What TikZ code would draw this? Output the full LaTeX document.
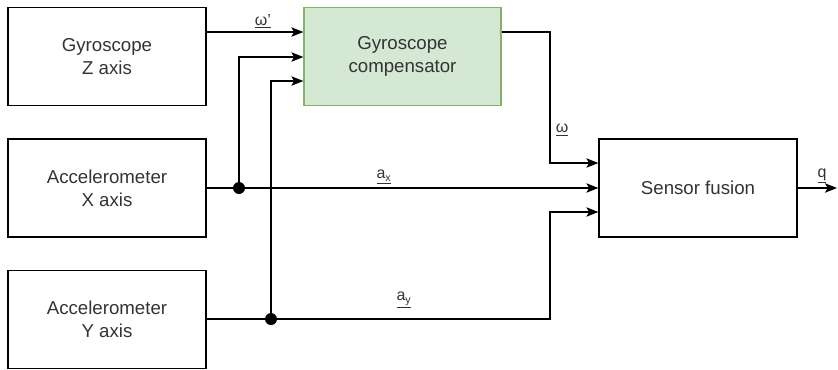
\documentclass[tikz,border=0pt]{standalone}
\usepackage{fontspec}
\setmainfont{Liberation Sans}
\usetikzlibrary{arrows.meta}
\definecolor{compfill}{HTML}{D5E8D4}
\definecolor{compdraw}{HTML}{82B366}
\definecolor{txt}{HTML}{333333}
\tikzset{
  blockbox/.style={draw=black, line width=0.9pt, minimum width=148.5pt, minimum height=73.5pt,
    align=center, text=txt, font=\fontsize{14}{17.5}\selectfont, inner sep=0pt},
  greenbox/.style={blockbox, fill=compfill, draw=compdraw},
  wire/.style={draw=black, line width=1.1pt},
  arr/.style={wire, -{Stealth[length=9pt, width=7pt, inset=2pt]}},
  dotnode/.style={circle, fill=black, inner sep=0pt, minimum size=9pt},
  lbl/.style={text=txt, font=\fontsize{12}{14}\selectfont, inner sep=0pt}
}
\begin{document}
\begin{tikzpicture}[x=0.75pt, y=-0.75pt]
\useasboundingbox (0,0) rectangle (838,369);
% boxes
\node[blockbox] (gz) at (107,56.5) {Gyroscope\\Z axis};
\node[greenbox, minimum width=147.75pt] (comp) at (402.5,56.5) {Gyroscope\\compensator};
\node[blockbox] (ax) at (107,188) {Accelerometer\\X axis};
\node[blockbox] (ay) at (107,319.5) {Accelerometer\\Y axis};
\node[blockbox] (sf) at (698,188) {Sensor fusion};
% helper coordinates
\coordinate (r1) at (0,32);
\coordinate (r2) at (0,57);
\coordinate (r3) at (0,81);
\coordinate (s1) at (0,163);
\coordinate (s3) at (0,212);
\coordinate (cw) at (550,163);
\coordinate (cy) at (550,212);
\coordinate (qe) at (837,188);
\node[dotnode] (dx) at (239,188) {};
\node[dotnode] (dy) at (271,319) {};
% connectors
\draw[arr] (gz.east |- r1) -- (comp.west |- r1);
\draw[arr] (dx.center) |- (comp.west |- r2);
\draw[arr] (dy.center) |- (comp.west |- r3);
\draw[arr] (ax.east) -- (sf.west);
\draw[arr] (ay.east |- dy) -| (cy) -- (sf.west |- s3);
\draw[arr] (comp.east |- r1) -| (cw) -- (sf.west |- s1);
\draw[arr] (sf.east) -- (qe);
% labels
\node[lbl] (lw1) at (263,21) {\underline{ω'}};
\node[lbl] (lw) at (562,130) {\underline{ω}};
\node[lbl] (lax) at (384,177) {\underline{a\textsubscript{x}}};
\node[lbl] (lay) at (404,300) {\underline{a\textsubscript{y}}};
\node[lbl] (lq) at (822,176) {\underline{q}};
\end{tikzpicture}
\end{document}
